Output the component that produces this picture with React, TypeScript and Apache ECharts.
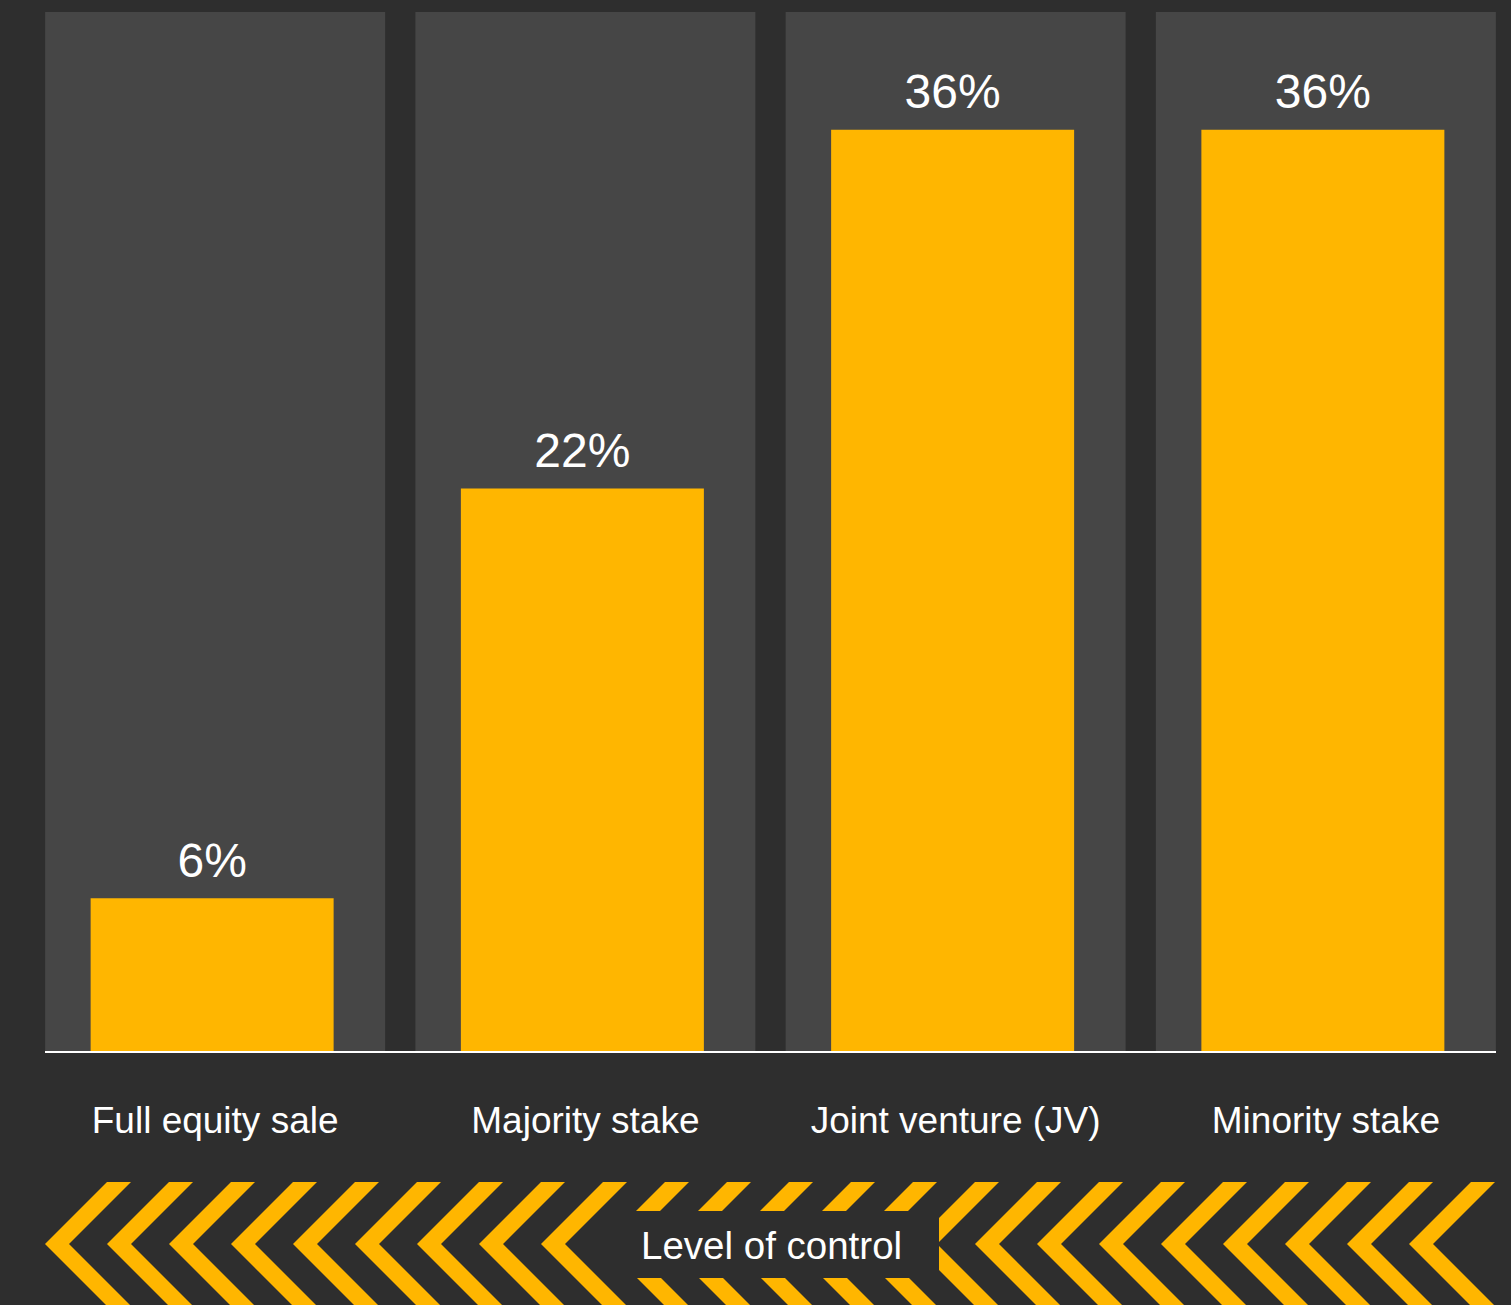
import React, { useEffect, useRef } from "react";
import * as echarts from "echarts";

const categories = ["Full equity sale", "Majority stake", "Joint venture (JV)", "Minority stake"];
const shares = [6, 22, 36, 36];
const axisMax = 40.6;
const panelValues = [40.6, 40.6, 40.6, 40.6];
const bandTitle = "Level of control";

const BG = "#2e2e2e";
const PANEL = "#464646";
const YELLOW = "#ffb600";
const FONT = "'Liberation Sans', Arial, Helvetica, sans-serif";

function buildChevrons() {
  const items: any[] = [];
  const apexY = 1244;
  const topY = 1182;
  const botY = 1306;
  for (let k = 0; k < 23; k++) {
    const a = 45 + 62 * k;
    items.push({
      type: "polygon",
      silent: true,
      shape: {
        points: [
          [a, apexY],
          [a + 62, topY],
          [a + 86, topY],
          [a + 24, apexY],
          [a + 86, botY],
          [a + 62, botY],
        ],
      },
      style: { fill: YELLOW },
      z: 10,
    });
  }
  items.push({ type: "rect", silent: true, shape: { x: 1496, y: 1170, width: 20, height: 140 }, style: { fill: BG }, z: 11 });
  items.push({ type: "rect", silent: true, shape: { x: 600, y: 1211, width: 339, height: 67 }, style: { fill: BG }, z: 12 });
  items.push({
    type: "text",
    silent: true,
    x: 641,
    y: 1245,
    style: { text: bandTitle, fill: "#ffffff", font: `38.5px ${FONT}`, align: "left", verticalAlign: "middle" },
    z: 13,
  });
  items.push({ type: "rect", silent: true, shape: { x: 45, y: 1051, width: 1451, height: 2 }, style: { fill: "#ffffff" }, z: 20 });
  return items;
}

export default function App() {
  const ref = useRef<HTMLDivElement>(null);
  useEffect(() => {
    document.body.style.margin = "0";
    document.body.style.background = BG;
    const chart = echarts.init(ref.current!, undefined, { renderer: "svg" });
    chart.setOption({
      animation: false,
      backgroundColor: BG,
      grid: [
        { left: 30, right: 0, top: 12, bottom: 253 },
        { left: 27, right: 3, top: 12, bottom: 253 },
      ],
      xAxis: [
        {
          type: "category",
          gridIndex: 0,
          data: categories,
          axisLine: { show: false },
          axisTick: { show: false },
          axisLabel: { color: "#ffffff", fontSize: 37, fontFamily: FONT, margin: 50, interval: 0 },
        },
        { type: "category", gridIndex: 1, data: categories, show: false },
      ],
      yAxis: [
        { type: "value", gridIndex: 0, min: 0, max: axisMax, show: false },
        { type: "value", gridIndex: 1, min: 0, max: axisMax, show: false },
      ],
      series: [
        {
          type: "bar",
          xAxisIndex: 0,
          yAxisIndex: 0,
          data: panelValues,
          barWidth: 340,
          itemStyle: { color: PANEL },
          silent: true,
          z: 1,
        },
        {
          type: "bar",
          xAxisIndex: 1,
          yAxisIndex: 1,
          data: shares,
          barWidth: 243,
          itemStyle: { color: YELLOW },
          z: 3,
          label: {
            show: true,
            position: "top",
            distance: 14,
            formatter: "{c}%",
            color: "#ffffff",
            fontSize: 48,
            fontFamily: FONT,
          },
        },
      ],
      graphic: buildChevrons(),
    });
    return () => chart.dispose();
  }, []);
  return <div ref={ref} style={{ width: 1511, height: 1305 }} />;
}
